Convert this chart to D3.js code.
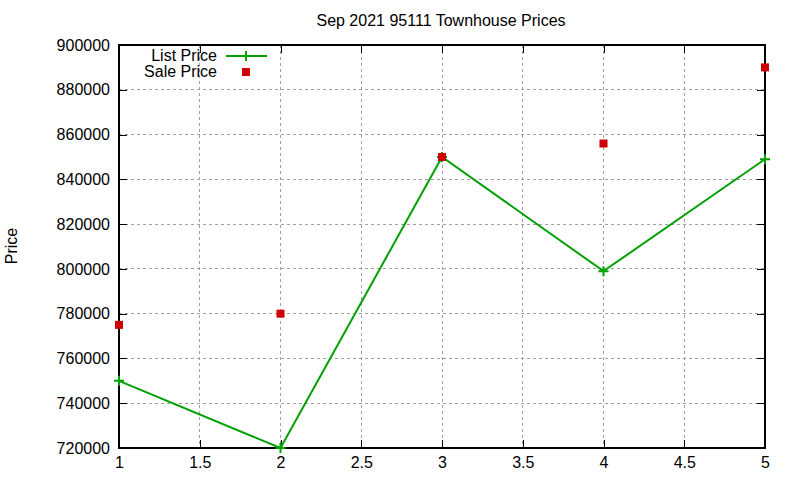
<!DOCTYPE html>
<html><head><meta charset="utf-8">
<script src="https://cdn.jsdelivr.net/npm/d3@7"></script>
<style>body{margin:0;background:#fff}svg{display:block}text{font-family:"Liberation Sans",Arial,sans-serif}</style>
</head><body><svg id="c" width="800" height="480"></svg>
<script>
const xs = [1, 2, 3, 4, 5];
const listPrice = [750000, 720000, 850000, 799000, 849000];
const salePrice = [775000, 780000, 850000, 856000, 890000];
const xTicks = [1, 1.5, 2, 2.5, 3, 3.5, 4, 4.5, 5];
const yTicks = [720000, 740000, 760000, 780000, 800000, 820000, 840000, 860000, 880000, 900000];
const title = "Sep 2021 95111 Townhouse Prices";
const yLabel = "Price";
const seriesNames = ["List Price", "Sale Price"];

(function () {
const svg = d3.select("#c");
const L = 119, R = 765, T = 45, B = 448;
const x = d3.scaleLinear().domain([1, 5]).range([L, R]);
const y = d3.scaleLinear().domain([720000, 900000]).range([B, T]);
const green = "#00a000", red = "#cc0000";

const g = svg.append("g");
g.selectAll(".gx").data(xTicks.slice(1, -1)).enter().append("line")
  .attr("x1", d => x(d)).attr("x2", d => x(d)).attr("y1", T).attr("y2", B)
  .attr("stroke", "#a0a0a0").attr("stroke-dasharray", "3,3").attr("shape-rendering", "crispEdges");
g.selectAll(".gy").data(yTicks.slice(1, -1)).enter().append("line")
  .attr("y1", d => y(d)).attr("y2", d => y(d)).attr("x1", L).attr("x2", R)
  .attr("stroke", "#a0a0a0").attr("stroke-dasharray", "3,3").attr("shape-rendering", "crispEdges");

const ax = (a) => a.tickSizeInner(-8).tickSizeOuter(0).tickPadding(6);
const axB = svg.append("g").attr("transform", `translate(0,${B})`)
  .call(ax(d3.axisBottom(x).tickValues(xTicks).tickFormat(d => d)));
const axT = svg.append("g").attr("transform", `translate(0,${T})`)
  .call(ax(d3.axisTop(x).tickValues(xTicks).tickFormat("")));
const axL = svg.append("g").attr("transform", `translate(${L},0)`)
  .call(ax(d3.axisLeft(y).tickValues(yTicks).tickFormat(d => String(d))));
const axR = svg.append("g").attr("transform", `translate(${R},0)`)
  .call(ax(d3.axisRight(y).tickValues(yTicks).tickFormat("")));
[axB, axT, axL, axR].forEach(a => {
  a.selectAll("path").remove();
  a.selectAll("line").attr("stroke", "#000").attr("shape-rendering", "crispEdges");
  a.selectAll("text").attr("font-size", 16).attr("fill", "#000").attr("font-family", "Liberation Sans, Arial, sans-serif");
});
axL.selectAll("text").attr("dx", "-3");
axB.selectAll("text").attr("dy", "0.9em");

svg.append("rect").attr("x", L).attr("y", T).attr("width", R - L).attr("height", B - T)
  .attr("fill", "none").attr("stroke", "#000").attr("stroke-width", 1.5).attr("shape-rendering", "crispEdges");

const pts = xs.map((d, i) => [d, listPrice[i]]);
svg.append("path").datum(pts)
  .attr("d", d3.line().x(d => x(d[0])).y(d => y(d[1])))
  .attr("fill", "none").attr("stroke", green).attr("stroke-width", 2);
const plus = (sel, s) => sel.append("path")
  .attr("d", `M${-s},0H${s}M0,${-s}V${s}`).attr("stroke", green).attr("stroke-width", 2);
svg.selectAll(".lp").data(pts).enter().append("g")
  .attr("transform", d => `translate(${x(d[0])},${y(d[1])})`).each(function () { plus(d3.select(this), 5); });

svg.selectAll(".sp").data(xs.map((d, i) => [d, salePrice[i]])).enter().append("rect")
  .attr("x", d => x(d[0]) - 4).attr("y", d => y(d[1]) - 4).attr("width", 8).attr("height", 8).attr("fill", red);

svg.append("text").attr("x", 441).attr("y", 26).attr("text-anchor", "middle").attr("font-size", 16).text(title);
svg.append("text").attr("transform", "translate(17,246) rotate(-90)").attr("text-anchor", "middle").attr("font-size", 16).text(yLabel);

const lg = svg.append("g");
lg.append("text").attr("x", 217).attr("y", 61).attr("text-anchor", "end").attr("font-size", 16).text(seriesNames[0]);
lg.append("text").attr("x", 217).attr("y", 77).attr("text-anchor", "end").attr("font-size", 16).text(seriesNames[1]);
lg.append("line").attr("x1", 226).attr("x2", 267).attr("y1", 56).attr("y2", 56).attr("stroke", green).attr("stroke-width", 2);
plus(lg.append("g").attr("transform", "translate(246,56)"), 5);
lg.append("rect").attr("x", 242).attr("y", 68).attr("width", 8).attr("height", 8).attr("fill", red);
})();
</script></body></html>
